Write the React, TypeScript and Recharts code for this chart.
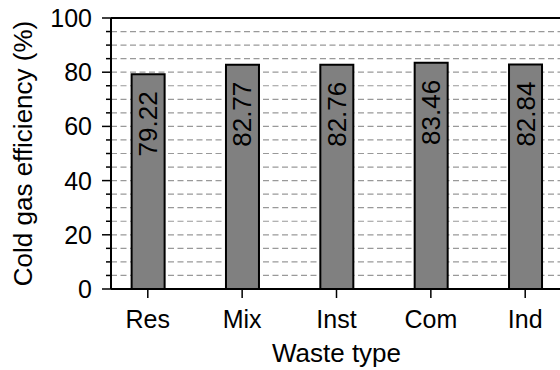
import React from "react"
import { Bar, BarChart, CartesianGrid, LabelList, ReferenceLine, XAxis, YAxis } from "recharts"

const categories = ["Res", "Mix", "Inst", "Com", "Ind"]
const efficiency = [79.22, 82.77, 82.76, 83.46, 82.84]
const yTicks = [0, 5, 10, 15, 20, 25, 30, 35, 40, 45, 50, 55, 60, 65, 70, 75, 80, 85, 90, 95, 100]
const xTicks = [0, 1, 2, 3, 4]

const data = categories.map((name, i) => ({ x: i, name, value: efficiency[i] }))

const FONT = "'Liberation Sans', Arial, sans-serif"
const TICK_FS = 25
const VALUE_FS = 26
const TITLE_FS = 26

function YTick(props: any) {
  const { x, y, payload } = props
  const major = payload.value % 20 === 0
  return (
    <g>
      <line x1={x - (major ? 9 : 5)} x2={x} y1={y} y2={y} stroke="#000" strokeWidth={1.5} />
      {major && (
        <text x={x - 19} y={y} textAnchor="end" dominantBaseline="central" fontSize={TICK_FS} fontFamily={FONT} fill="#000">
          {payload.value}
        </text>
      )}
    </g>
  )
}

function XTick(props: any) {
  const { x, y, payload } = props
  return (
    <text x={x} y={y + 19} textAnchor="middle" dominantBaseline="central" fontSize={TICK_FS} fontFamily={FONT} fill="#000">
      {categories[payload.value]}
    </text>
  )
}

function ValueLabel(props: any) {
  const { x, y, width, value } = props
  const cx = x + width / 2
  const cy = y + 17
  return (
    <text
      x={cx}
      y={cy}
      transform={`rotate(-90 ${cx} ${cy})`}
      textAnchor="end"
      dominantBaseline="central"
      fontSize={VALUE_FS}
      fontFamily={FONT}
      fill="#000"
    >
      {value.toFixed(2)}
    </text>
  )
}

function YTitle(props: any) {
  const { viewBox } = props
  const cx = 23
  const cy = viewBox.y + viewBox.height / 2
  return (
    <text
      x={cx}
      y={cy}
      transform={`rotate(-90 ${cx} ${cy})`}
      textAnchor="middle"
      dominantBaseline="central"
      fontSize={TITLE_FS}
      fontFamily={FONT}
      fill="#000"
    >
      Cold gas efficiency (%)
    </text>
  )
}

export default function App() {
  return (
    <div style={{ position: "absolute", left: 0, top: 0, width: 560, height: 370, overflow: "hidden", background: "#fff" }}>
      <BarChart width={564} height={370} data={data} margin={{ top: 18, right: 2, left: 0, bottom: 0 }}>
        <CartesianGrid vertical={false} stroke="#999" strokeWidth={1.2} strokeDasharray="6 3.5" />
        <XAxis
          type="number"
          dataKey="x"
          domain={[-0.39, 4.39]}
          ticks={xTicks}
          allowDataOverflow
          height={81}
          tickSize={9}
          tickLine={{ stroke: "#000", strokeWidth: 1.5 }}
          axisLine={{ stroke: "#000", strokeWidth: 2 }}
          tick={<XTick />}
          label={{ value: "Waste type", position: "insideBottom", offset: 8, fontSize: TITLE_FS, fontFamily: FONT, fill: "#000" }}
        />
        <YAxis
          domain={[0, 100]}
          ticks={yTicks}
          interval={0}
          width={111}
          tickSize={0}
          tickMargin={0}
          tickLine={false}
          axisLine={{ stroke: "#000", strokeWidth: 2 }}
          tick={<YTick />}
          label={<YTitle />}
        />
        <ReferenceLine y={100} stroke="#000" strokeWidth={2} />
        <Bar dataKey="value" barSize={33} fill="#808080" stroke="#000" strokeWidth={2} isAnimationActive={false}>
          <LabelList dataKey="value" content={<ValueLabel />} />
        </Bar>
      </BarChart>
    </div>
  )
}
